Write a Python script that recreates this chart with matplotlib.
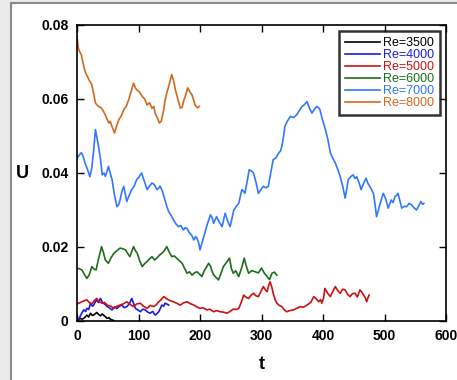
import matplotlib
matplotlib.use('Agg')
import matplotlib.pyplot as plt
from matplotlib.patches import Rectangle

# Re=3500
t_3500 = [0, 3, 5, 8, 11, 14, 16, 19, 22, 25, 27, 30, 32, 35, 38, 41, 43, 46, 49, 52, 54, 57, 60]
u_3500 = [0.0, 0.0004, 0.0007, 0.0005, 0.0007, 0.0012, 0.0016, 0.0011, 0.0021, 0.0015, 0.0016, 0.0020,
          0.0023, 0.0018, 0.0014, 0.0019, 0.0016, 0.0012, 0.0007, 0.0009, 0.0005, 0.0003, 0.0001]

# Re=4000
t_4000 = [0, 3, 5, 8, 11, 14, 16, 19, 22, 25, 27, 30, 32, 35, 38, 41, 43, 46, 49, 53, 57, 61, 65,
          69, 73, 77, 81, 85, 89, 92, 95, 99, 103, 107, 111, 115, 119, 123, 127, 130, 133, 136, 138,
          141, 143, 146, 149]
u_4000 = [0.0, 0.0006, 0.0012, 0.0022, 0.003, 0.0026, 0.0034, 0.0031, 0.0048, 0.0040, 0.0043, 0.0052,
          0.0057, 0.0050, 0.0061, 0.0052, 0.0048, 0.0044, 0.0039, 0.0035, 0.003, 0.0038, 0.0034,
          0.0040, 0.0043, 0.0036, 0.0039, 0.0046, 0.0061, 0.0048, 0.0034, 0.0030, 0.0025, 0.0032,
          0.0030, 0.0024, 0.0021, 0.0026, 0.0016, 0.0020, 0.0025, 0.0036, 0.0043, 0.0040, 0.0048,
          0.0046, 0.0043]

# Re=5000
t_5000 = [0, 4, 8, 12, 16, 20, 24, 28, 32, 36, 41, 45, 49, 55, 60, 65, 70, 75, 81, 86, 92, 97, 103,
          108, 114, 119, 125, 129, 133, 137, 141, 145, 149, 153, 157, 162, 168, 173, 179, 184, 190,
          195, 200, 205, 211, 216, 222, 227, 233, 238, 244, 249, 254, 259, 263, 267, 271, 275, 279,
          283, 287, 291, 295, 299, 303, 306, 309, 312, 314, 317, 319, 322, 325, 329, 333, 337, 341,
          346, 352, 357, 363, 368, 374, 380, 385, 389, 393, 396, 398, 401, 403, 408, 412, 416, 420,
          424, 428, 432, 436, 440, 444, 448, 452, 456, 460, 463, 466, 469, 471, 473, 475]
u_5000 = [0.0046, 0.0049, 0.0052, 0.0055, 0.0057, 0.0050, 0.0046, 0.0055, 0.0061, 0.0052, 0.0048,
          0.0050, 0.0043, 0.0040, 0.0034, 0.0040, 0.0043, 0.0046, 0.0052, 0.0045, 0.0039, 0.0046,
          0.0048, 0.0040, 0.0034, 0.0042, 0.0039, 0.0044, 0.0052, 0.0058, 0.0066, 0.0061, 0.0057,
          0.0054, 0.0052, 0.0048, 0.0043, 0.0049, 0.0052, 0.0047, 0.0043, 0.0038, 0.0034, 0.0036,
          0.0030, 0.0032, 0.0025, 0.0028, 0.0025, 0.0024, 0.0021, 0.0026, 0.0032, 0.0031, 0.0034,
          0.0050, 0.0070, 0.0064, 0.0061, 0.0070, 0.0075, 0.0068, 0.0066, 0.0080, 0.0093, 0.0085,
          0.0079, 0.0098, 0.0106, 0.0090, 0.0075, 0.0058, 0.0048, 0.0042, 0.0039, 0.0030, 0.0025,
          0.0028, 0.0030, 0.0034, 0.0039, 0.0037, 0.0043, 0.0050, 0.0066, 0.0060, 0.0052, 0.0058,
          0.0048, 0.0062, 0.0088, 0.0074, 0.0066, 0.0080, 0.0093, 0.0082, 0.0075, 0.0086, 0.0084,
          0.0072, 0.0066, 0.0074, 0.0075, 0.0065, 0.0084, 0.0078, 0.0070, 0.0062, 0.0052, 0.0062,
          0.0070]

# Re=6000
t_6000 = [0, 4, 8, 12, 16, 20, 24, 28, 31, 35, 40, 43, 46, 51, 55, 60, 65, 70, 75, 79, 83, 86, 89,
          92, 95, 98, 102, 106, 110, 114, 118, 122, 126, 130, 134, 138, 142, 146, 150, 154, 158, 162,
          167, 171, 175, 179, 183, 187, 191, 195, 199, 203, 207, 211, 214, 217, 220, 222, 226, 230,
          234, 238, 243, 248, 251, 254, 258, 263, 268, 272, 275, 279, 284, 290, 295, 300, 304, 309,
          313, 317, 321, 325]
u_6000 = [0.0143, 0.0141, 0.0138, 0.0126, 0.0115, 0.0125, 0.0147, 0.0140, 0.0138, 0.0168, 0.0201,
          0.0185, 0.0165, 0.0156, 0.0170, 0.0183, 0.0190, 0.0197, 0.0195, 0.0192, 0.0181, 0.0174,
          0.0188, 0.0201, 0.0190, 0.0183, 0.0162, 0.0147, 0.0155, 0.0161, 0.0168, 0.0174, 0.0165,
          0.0170, 0.0178, 0.0183, 0.0190, 0.0201, 0.0186, 0.0174, 0.0176, 0.0170, 0.0162, 0.0156,
          0.0142, 0.0129, 0.0133, 0.0124, 0.0130, 0.0133, 0.0127, 0.0120, 0.0136, 0.0147, 0.0156,
          0.0148, 0.0133, 0.0125, 0.0118, 0.0111, 0.0128, 0.0147, 0.0158, 0.0170, 0.0142, 0.0129,
          0.0136, 0.0120, 0.0145, 0.0170, 0.0150, 0.0129, 0.0136, 0.0133, 0.0130, 0.0143, 0.0131,
          0.0120, 0.0112, 0.0129, 0.0132, 0.0124]

# Re=7000
t_7000 = [0, 3, 7, 10, 13, 17, 21, 24, 27, 30, 33, 35, 38, 41, 44, 46, 49, 51, 54, 57, 61, 65, 68,
          70, 73, 76, 79, 81, 85, 89, 93, 97, 101, 105, 109, 114, 118, 122, 126, 130, 133, 135, 139,
          143, 146, 149, 153, 157, 161, 165, 169, 173, 176, 179, 182, 184, 187, 190, 193, 195, 198,
          200, 204, 208, 212, 217, 220, 222, 225, 227, 231, 236, 239, 241, 245, 249, 252, 255, 259,
          263, 266, 268, 271, 273, 277, 280, 284, 287, 291, 295, 299, 303, 307, 311, 315, 319, 323,
          328, 331, 333, 336, 338, 342, 347, 352, 357, 362, 366, 370, 374, 378, 382, 386, 390, 393,
          395, 399, 404, 408, 412, 416, 420, 424, 428, 432, 436, 439, 441, 445, 449, 452, 455, 459,
          462, 466, 470, 473, 476, 479, 482, 485, 487, 490, 493, 496, 498, 502, 506, 509, 511, 514,
          517, 520, 522, 525, 528, 532, 536, 540, 544, 548, 552, 556, 559, 562, 564]
u_7000 = [0.0440, 0.0447, 0.0455, 0.0445, 0.0427, 0.0410, 0.0390, 0.0413, 0.0460, 0.0517, 0.0490,
          0.0472, 0.0440, 0.0395, 0.0400, 0.0391, 0.0405, 0.0418, 0.0400, 0.0382, 0.0340, 0.0309,
          0.0315, 0.0327, 0.0350, 0.0364, 0.0340, 0.0323, 0.0340, 0.0355, 0.0365, 0.0382, 0.0390,
          0.0400, 0.0380, 0.0355, 0.0365, 0.0373, 0.0368, 0.0355, 0.0359, 0.0365, 0.0350, 0.0327,
          0.0310, 0.0296, 0.0285, 0.0273, 0.0262, 0.0255, 0.0258, 0.0246, 0.0252, 0.0250, 0.0240,
          0.0237, 0.0230, 0.0219, 0.0228, 0.0224, 0.0210, 0.0192, 0.0215, 0.0237, 0.0262, 0.0287,
          0.0278, 0.0264, 0.0275, 0.0282, 0.0268, 0.0255, 0.0278, 0.0291, 0.0270, 0.0255, 0.0278,
          0.0300, 0.0310, 0.0318, 0.0340, 0.0355, 0.0350, 0.0345, 0.0380, 0.0409, 0.0405, 0.0400,
          0.0375, 0.0345, 0.0355, 0.0364, 0.0360, 0.0364, 0.0400, 0.0436, 0.0440, 0.0454, 0.0460,
          0.0472, 0.0500, 0.0526, 0.0540, 0.0553, 0.0550, 0.0557, 0.0570, 0.0580, 0.0585, 0.0593,
          0.0575, 0.0562, 0.0572, 0.0580, 0.0576, 0.0571, 0.0545, 0.0517, 0.0490, 0.0454, 0.0440,
          0.0427, 0.0410, 0.0390, 0.0365, 0.0332, 0.0360, 0.0382, 0.0390, 0.0395, 0.0385, 0.0390,
          0.0372, 0.0355, 0.0372, 0.0386, 0.0372, 0.0364, 0.0355, 0.0345, 0.0310, 0.0282, 0.0300,
          0.0318, 0.0335, 0.0345, 0.0330, 0.0305, 0.0318, 0.0327, 0.0320, 0.0336, 0.0340, 0.0345,
          0.0325, 0.0305, 0.0310, 0.0309, 0.0318, 0.0314, 0.0306, 0.0300, 0.0312, 0.0323, 0.0315,
          0.0318]

# Re=8000
t_8000 = [0, 2, 4, 7, 11, 14, 17, 20, 24, 27, 30, 32, 35, 38, 42, 46, 49, 52, 54, 57, 61, 64, 68,
          72, 76, 80, 84, 88, 92, 95, 97, 101, 106, 110, 114, 118, 122, 125, 127, 131, 134, 137, 141,
          143, 146, 150, 154, 157, 160, 164, 168, 171, 174, 177, 180, 184, 187, 190, 192, 196, 199]
u_8000 = [0.0769, 0.0740, 0.0729, 0.0720, 0.0688, 0.0670, 0.0661, 0.0650, 0.0639, 0.0615, 0.0589,
          0.0585, 0.0580, 0.0578, 0.0570, 0.0557, 0.0545, 0.0535, 0.0540, 0.0525, 0.0508, 0.0525,
          0.0544, 0.0555, 0.0571, 0.0580, 0.0598, 0.0620, 0.0643, 0.0630, 0.0625, 0.0620, 0.0607,
          0.0600, 0.0584, 0.0590, 0.0575, 0.0580, 0.0562, 0.0548, 0.0535, 0.0540, 0.0571, 0.0595,
          0.0616, 0.0640, 0.0666, 0.0650, 0.0625, 0.0600, 0.0575, 0.0578, 0.0598, 0.0612, 0.0630,
          0.0618, 0.0611, 0.0595, 0.0584, 0.0576, 0.0580]

labels = ['Re=3500', 'Re=4000', 'Re=5000', 'Re=6000', 'Re=7000', 'Re=8000']
colors = ['#000000', '#1a1ae0', '#cc1111', '#1c6e1c', '#3377ff', '#d2691e']
x_ticks = [0, 100, 200, 300, 400, 500, 600]
y_ticks = [0, 0.02, 0.04, 0.06, 0.08]
y_tick_labels = ['0', '0.02', '0.04', '0.06', '0.08']

plt.rcParams['font.family'] = ['Liberation Sans', 'DejaVu Sans']

fig = plt.figure(figsize=(4.57, 3.8), dpi=100)
fig.patch.set_facecolor('#ebebeb')
# white panel with grey edge (left and top only visible)
fig.patches.append(Rectangle((11 / 457, -0.1), 1.2, 1.1 - 3 / 380, transform=fig.transFigure,
                             facecolor='white', edgecolor='#8a8a8a', linewidth=1.5, zorder=-1))

ax = fig.add_axes([77 / 457, 59 / 380, 369 / 457, 296 / 380])
series = [(t_3500, u_3500), (t_4000, u_4000), (t_5000, u_5000),
          (t_6000, u_6000), (t_7000, u_7000), (t_8000, u_8000)]
for (t, u), lab, c in zip(series, labels, colors):
    ax.plot(t, u, color=c, lw=1.2, label=lab)

ax.set_xlim(0, 600)
ax.set_ylim(0, 0.08)
ax.set_xticks(x_ticks)
ax.set_yticks(y_ticks)
ax.set_yticklabels(y_tick_labels)
ax.tick_params(direction='in', length=5, width=1, top=True, right=True, labelsize=10, pad=6)
for lab in ax.get_xticklabels() + ax.get_yticklabels():
    lab.set_fontweight('bold')
for sp in ax.spines.values():
    sp.set_linewidth(1.2)
ax.set_xlabel('t', fontsize=13, fontweight='bold', labelpad=9)
ax.set_ylabel('U', fontsize=13, fontweight='bold', rotation=0, labelpad=14, va='center')

leg = ax.legend(loc='upper right', fontsize=9, frameon=True, fancybox=False, handlelength=2.8,
                labelspacing=0.0, borderpad=0.5, handletextpad=0.25, borderaxespad=0.45)
leg.get_frame().set_edgecolor('black')
leg.get_frame().set_linewidth(1.8)
for txt, c in zip(leg.get_texts(), colors):
    txt.set_color(c)

fig.savefig('out.png', dpi=100, facecolor=fig.get_facecolor())
